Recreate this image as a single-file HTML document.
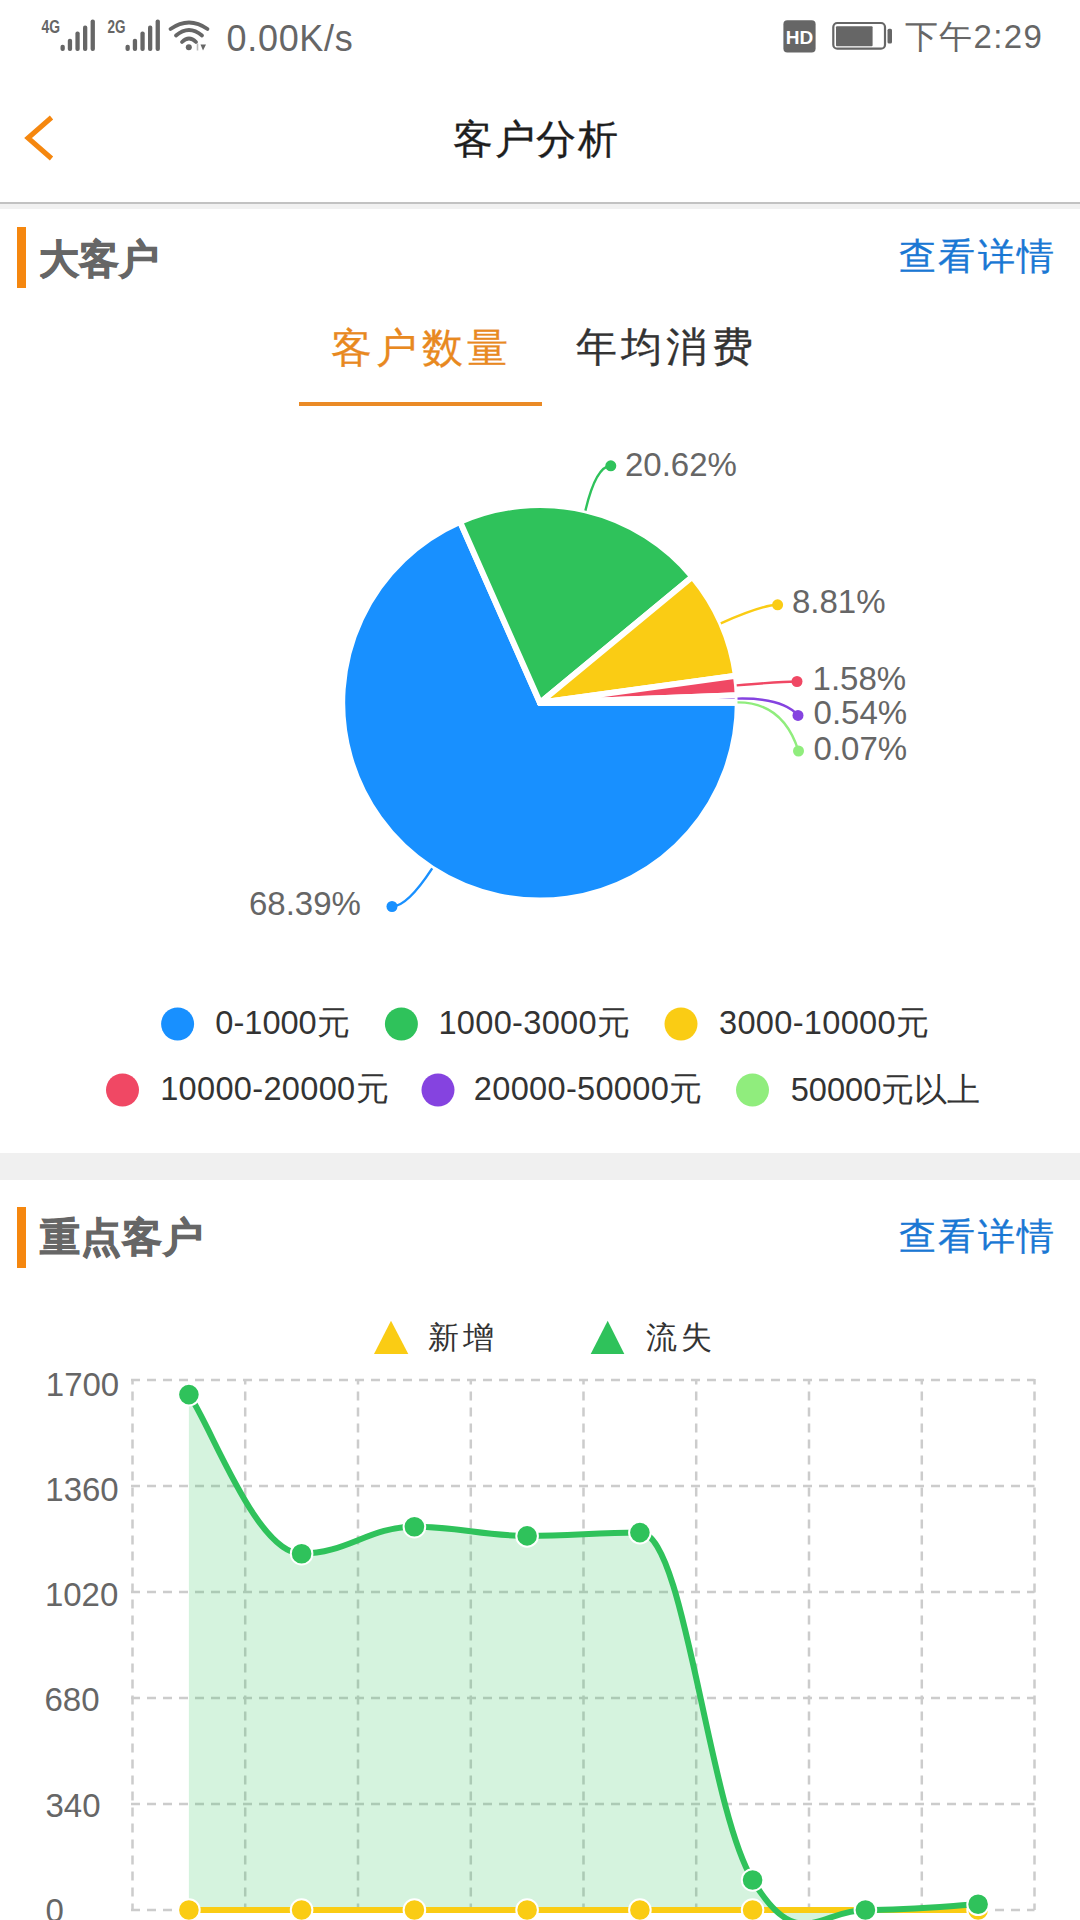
<!DOCTYPE html>
<html><head><meta charset="utf-8"><style>
html,body{margin:0;padding:0;}
body{width:1080px;height:1920px;overflow:hidden;position:relative;background:#fff;font-family:'Liberation Sans', sans-serif;}
.t{position:absolute;white-space:nowrap;line-height:1;}
.abs{position:absolute;}
</style></head><body>
<div class="abs" style="left:0;top:201.5px;width:1080px;height:2px;background:#c2c2c2"></div>
<div class="abs" style="left:0;top:203.5px;width:1080px;height:5px;background:#f1f1f1"></div>
<div class="abs" style="left:0;top:1153px;width:1080px;height:26.5px;background:#f0f0f0"></div>
<div class="abs" style="left:17px;top:227px;width:9px;height:61px;background:#f5870f"></div>
<div class="abs" style="left:17px;top:1207px;width:9px;height:61px;background:#f5870f"></div>
<div class="abs" style="left:299px;top:402px;width:243px;height:4px;background:#ea8a26"></div>
<svg class="abs" style="left:0;top:0" width="1080" height="1920" viewBox="0 0 1080 1920">

<text x="41.5" y="32.8" font-family="Liberation Sans" font-weight="bold" font-size="18.5" fill="#666" textLength="18.5" lengthAdjust="spacingAndGlyphs">4G</text>
<rect x="60.5" y="44.8" width="4.3" height="6.2" rx="2" fill="#666"/>
<rect x="67.8" y="38.7" width="4.3" height="12.3" rx="2" fill="#666"/>
<rect x="75.4" y="31.6" width="4.3" height="19.4" rx="2" fill="#666"/>
<rect x="83" y="25.5" width="4.3" height="25.5" rx="2" fill="#666"/>
<rect x="90.6" y="19.4" width="4.3" height="31.6" rx="2" fill="#666"/>
<text x="107.5" y="32.8" font-family="Liberation Sans" font-weight="bold" font-size="18.5" fill="#666" textLength="18" lengthAdjust="spacingAndGlyphs">2G</text>
<rect x="125.5" y="44.8" width="4.3" height="6.2" rx="2" fill="#666"/>
<rect x="132.8" y="38.7" width="4.3" height="12.3" rx="2" fill="#666"/>
<rect x="140.4" y="31.6" width="4.3" height="19.4" rx="2" fill="#666"/>
<rect x="148" y="25.5" width="4.3" height="25.5" rx="2" fill="#666"/>
<rect x="155.6" y="19.4" width="4.3" height="31.6" rx="2" fill="#666"/>
<path d="M170.5,29 Q189,16 207.5,29" stroke="#666" stroke-width="3.8" fill="none" stroke-linecap="round"/>
<path d="M176,35.5 Q189,24.5 202,35.5" stroke="#666" stroke-width="3.8" fill="none" stroke-linecap="round"/>
<path d="M182,42 Q189,35 196,42" stroke="#666" stroke-width="3.8" fill="none" stroke-linecap="round"/>
<circle cx="188.8" cy="47.3" r="3" fill="#666"/>
<path d="M197.5,43.5 L197.5,50.5" stroke="#bbb" stroke-width="1.6"/>
<path d="M200.5,44.5 L206,44.5 L203,50.5 Z" fill="#666"/>
<rect x="783.4" y="20.2" width="32.2" height="32.2" rx="4" fill="#666"/>
<text x="799.5" y="44" font-family="Liberation Sans" font-weight="bold" font-size="19" fill="#fff" text-anchor="middle">HD</text>
<rect x="833.3" y="23" width="51.7" height="25.7" rx="4" fill="none" stroke="#666" stroke-width="2.2"/>
<rect x="836" y="26.2" width="36.6" height="20" rx="1" fill="#666"/>
<rect x="887.5" y="28.8" width="4.5" height="14.8" rx="1.5" fill="#666"/>

<path d="M51.5,117.5 L28,138 L51.5,158.5" fill="none" stroke="#f5870f" stroke-width="5" stroke-linecap="butt" stroke-linejoin="miter"/>
<path d="M540,702.8 L737.80,702.80 A197.8,197.8 0 1 1 460.11,521.85 Z" fill="#1890ff" stroke="#fff" stroke-width="6" stroke-linejoin="round"/>
<path d="M540,702.8 L460.11,521.85 A197.8,197.8 0 0 1 692.42,576.73 Z" fill="#2fc25b" stroke="#fff" stroke-width="6" stroke-linejoin="round"/>
<path d="M540,702.8 L692.42,576.73 A197.8,197.8 0 0 1 735.93,675.67 Z" fill="#facc14" stroke="#fff" stroke-width="6" stroke-linejoin="round"/>
<path d="M540,702.8 L735.93,675.67 A197.8,197.8 0 0 1 737.65,695.22 Z" fill="#f04864" stroke="#fff" stroke-width="6" stroke-linejoin="round"/>
<path d="M540,702.8 L737.65,695.22 A197.8,197.8 0 0 1 737.80,701.93 Z" fill="#8543e0" stroke="#fff" stroke-width="6" stroke-linejoin="round"/>
<path d="M540,702.8 L737.80,701.93 A197.8,197.8 0 0 1 737.80,702.80 Z" fill="#90ed7d" stroke="#fff" stroke-width="6" stroke-linejoin="round"/>
<path d="M432.2,868.3 Q407.3,906.4 392.0,906.5" fill="none" stroke="#1890ff" stroke-width="2.4"/>
<circle cx="392.0" cy="906.5" r="5.5" fill="#1890ff"/>
<path d="M585.4,510.6 Q595.9,466.3 610.8,465.8" fill="none" stroke="#2fc25b" stroke-width="2.4"/>
<circle cx="610.8" cy="465.8" r="5.5" fill="#2fc25b"/>
<path d="M720.8,623.3 Q762.4,605.0 777.6,604.8" fill="none" stroke="#facc14" stroke-width="2.4"/>
<circle cx="777.6" cy="604.8" r="5.5" fill="#facc14"/>
<path d="M736.7,685.4 Q782.1,681.5 797,681.5" fill="none" stroke="#f04864" stroke-width="2.4"/>
<circle cx="797" cy="681.5" r="5.5" fill="#f04864"/>
<path d="M737.5,698.6 Q782.9,697.6 798,715.4" fill="none" stroke="#8543e0" stroke-width="2.4"/>
<circle cx="798" cy="715.4" r="5.5" fill="#8543e0"/>
<path d="M737.5,702.4 Q783.0,702.2 798.5,751" fill="none" stroke="#90ed7d" stroke-width="2.4"/>
<circle cx="798.5" cy="751" r="5.5" fill="#90ed7d"/>
<circle cx="177.6" cy="1024" r="16.5" fill="#1890ff"/>
<circle cx="401.4" cy="1024" r="16.5" fill="#2fc25b"/>
<circle cx="681" cy="1024" r="16.5" fill="#facc14"/>
<circle cx="122.5" cy="1090" r="16.5" fill="#f04864"/>
<circle cx="438" cy="1090" r="16.5" fill="#8543e0"/>
<circle cx="752.5" cy="1090" r="16.5" fill="#90ed7d"/>
<path d="M391,1320.7 L408.3,1354 L374,1354 Z" fill="#facc14"/>
<path d="M607.7,1320.7 L624.3,1354 L590.7,1354 Z" fill="#2fc25b"/>
<path d="M131.0,1380.0 H1034.5 M131.0,1486.0 H1034.5 M131.0,1592.0 H1034.5 M131.0,1698.0 H1034.5 M131.0,1804.0 H1034.5 M131.0,1910.0 H1034.5" stroke="#cccccc" stroke-width="2.5" stroke-dasharray="9 7" fill="none"/>
<path d="M132.5,1379 V1910 M245.2,1379 V1910 M358.0,1379 V1910 M470.8,1379 V1910 M583.5,1379 V1910 M696.2,1379 V1910 M809.0,1379 V1910 M921.8,1379 V1910 M1034.5,1379 V1910" stroke="#cccccc" stroke-width="2.5" stroke-dasharray="9 7" stroke-dashoffset="3.4" fill="none"/>
<path d="M188.9,1394.6 C211.4,1426.4 256.5,1553.7 301.6,1553.7 C346.7,1553.7 369.3,1526.7 414.4,1526.7 C459.5,1526.7 482.0,1535.9 527.1,1535.9 C572.2,1535.9 594.8,1532.6 639.9,1532.6 C685.0,1532.6 707.5,1804.5 752.6,1880.0 C797.7,1955.5 820.3,1910.0 865.4,1910.0 C910.5,1910.0 955.6,1905.4 978.1,1904.3 L978.1,1910 L188.9,1910 Z" fill="#2fc25b" fill-opacity="0.2" stroke="none"/>
<path d="M188.9,1910.0 C211.4,1910.0 256.5,1910.0 301.6,1910.0 C346.7,1910.0 369.3,1910.0 414.4,1910.0 C459.5,1910.0 482.0,1910.0 527.1,1910.0 C572.2,1910.0 594.8,1910.0 639.9,1910.0 C685.0,1910.0 707.5,1910.0 752.6,1910.0 C797.7,1910.0 820.3,1910.0 865.4,1910.0 C910.5,1910.0 955.6,1910.0 978.1,1910.0" fill="none" stroke="#facc14" stroke-width="6"/>
<circle cx="188.9" cy="1910" r="10.8" fill="#facc14" stroke="#fff" stroke-width="2"/>
<circle cx="301.6" cy="1910" r="10.8" fill="#facc14" stroke="#fff" stroke-width="2"/>
<circle cx="414.4" cy="1910" r="10.8" fill="#facc14" stroke="#fff" stroke-width="2"/>
<circle cx="527.1" cy="1910" r="10.8" fill="#facc14" stroke="#fff" stroke-width="2"/>
<circle cx="639.9" cy="1910" r="10.8" fill="#facc14" stroke="#fff" stroke-width="2"/>
<circle cx="752.6" cy="1910" r="10.8" fill="#facc14" stroke="#fff" stroke-width="2"/>
<circle cx="865.4" cy="1910" r="10.8" fill="#facc14" stroke="#fff" stroke-width="2"/>
<circle cx="978.1" cy="1910" r="10.8" fill="#facc14" stroke="#fff" stroke-width="2"/>
<path d="M188.9,1394.6 C211.4,1426.4 256.5,1553.7 301.6,1553.7 C346.7,1553.7 369.3,1526.7 414.4,1526.7 C459.5,1526.7 482.0,1535.9 527.1,1535.9 C572.2,1535.9 594.8,1532.6 639.9,1532.6 C685.0,1532.6 707.5,1804.5 752.6,1880.0 C797.7,1955.5 820.3,1910.0 865.4,1910.0 C910.5,1910.0 955.6,1905.4 978.1,1904.3" fill="none" stroke="#2fc25b" stroke-width="6"/>
<circle cx="188.9" cy="1394.6" r="10.8" fill="#2fc25b" stroke="#fff" stroke-width="2"/>
<circle cx="301.6" cy="1553.7" r="10.8" fill="#2fc25b" stroke="#fff" stroke-width="2"/>
<circle cx="414.4" cy="1526.7" r="10.8" fill="#2fc25b" stroke="#fff" stroke-width="2"/>
<circle cx="527.1" cy="1535.9" r="10.8" fill="#2fc25b" stroke="#fff" stroke-width="2"/>
<circle cx="639.9" cy="1532.6" r="10.8" fill="#2fc25b" stroke="#fff" stroke-width="2"/>
<circle cx="752.6" cy="1880" r="10.8" fill="#2fc25b" stroke="#fff" stroke-width="2"/>
<circle cx="865.4" cy="1910" r="10.8" fill="#2fc25b" stroke="#fff" stroke-width="2"/>
<circle cx="978.1" cy="1904.3" r="10.8" fill="#2fc25b" stroke="#fff" stroke-width="2"/>
</svg>
<div class="t" style="left:226.5px;top:21.2px;font-size:36px;color:#666;font-weight:normal;letter-spacing:0.7px;">0.00K/s</div>
<div class="t" style="left:904.6px;top:20.2px;font-size:33px;color:#666;font-weight:normal;letter-spacing:1.4px;">下午2:29</div>
<div class="t" style="left:453.0px;top:118.5px;font-size:40px;color:#1e1e1e;font-weight:normal;letter-spacing:1.6px;-webkit-text-stroke:0.3px #1e1e1e;">客户分析</div>
<div class="t" style="left:39.0px;top:238.5px;font-size:40px;color:#666;font-weight:bold;-webkit-text-stroke:0.9px #666;">大客户</div>
<div class="t" style="left:899.0px;top:239.0px;font-size:36.5px;color:#1a78d4;font-weight:normal;letter-spacing:2.4px;-webkit-text-stroke:0.3px #1a78d4;">查看详情</div>
<div class="t" style="left:331.0px;top:327.5px;font-size:41px;color:#e8891f;font-weight:normal;letter-spacing:4.4px;-webkit-text-stroke:0.3px #e8891f;">客户数量</div>
<div class="t" style="left:576.0px;top:327.0px;font-size:41px;color:#333;font-weight:normal;letter-spacing:4.2px;-webkit-text-stroke:0.3px #333;">年均消费</div>
<div class="t" style="left:625.0px;top:447.5px;font-size:33px;color:#666;font-weight:normal;">20.62%</div>
<div class="t" style="left:792.0px;top:585.0px;font-size:33px;color:#666;font-weight:normal;">8.81%</div>
<div class="t" style="left:812.6px;top:662.3px;font-size:33px;color:#666;font-weight:normal;">1.58%</div>
<div class="t" style="left:813.6px;top:696.1px;font-size:33px;color:#666;font-weight:normal;">0.54%</div>
<div class="t" style="left:813.6px;top:731.7px;font-size:33px;color:#666;font-weight:normal;">0.07%</div>
<div class="t" style="left:249.0px;top:887.2px;font-size:33px;color:#666;font-weight:normal;">68.39%</div>
<div class="t" style="left:215.3px;top:1007.3px;font-size:32.6px;color:#333;font-weight:normal;">0-1000元</div>
<div class="t" style="left:438.4px;top:1007.3px;font-size:32.6px;color:#333;font-weight:normal;letter-spacing:0.3px;">1000-3000元</div>
<div class="t" style="left:719.0px;top:1007.3px;font-size:32.6px;color:#333;font-weight:normal;letter-spacing:0.3px;">3000-10000元</div>
<div class="t" style="left:160.2px;top:1073.3px;font-size:32.6px;color:#333;font-weight:normal;letter-spacing:0.3px;">10000-20000元</div>
<div class="t" style="left:473.8px;top:1073.3px;font-size:32.6px;color:#333;font-weight:normal;letter-spacing:0.3px;">20000-50000元</div>
<div class="t" style="left:790.7px;top:1073.8px;font-size:32.6px;color:#333;font-weight:normal;">50000元以上</div>
<div class="t" style="left:39.7px;top:1217.3px;font-size:40px;color:#666;font-weight:bold;-webkit-text-stroke:0.9px #666;letter-spacing:1.2px;">重点客户</div>
<div class="t" style="left:899.0px;top:1219.0px;font-size:36.5px;color:#1a78d4;font-weight:normal;letter-spacing:2.4px;-webkit-text-stroke:0.3px #1a78d4;">查看详情</div>
<div class="t" style="left:428.3px;top:1322.2px;font-size:30.5px;color:#333;font-weight:normal;letter-spacing:3.5px;">新增</div>
<div class="t" style="left:646.3px;top:1322.2px;font-size:30.5px;color:#333;font-weight:normal;letter-spacing:3.5px;">流失</div>
<div class="t" style="left:45.8px;top:1368.0px;font-size:33px;color:#666;font-weight:normal;">1700</div>
<div class="t" style="left:45.3px;top:1473.3px;font-size:33px;color:#666;font-weight:normal;">1360</div>
<div class="t" style="left:44.9px;top:1578.0px;font-size:33px;color:#666;font-weight:normal;">1020</div>
<div class="t" style="left:44.5px;top:1683.0px;font-size:33px;color:#666;font-weight:normal;">680</div>
<div class="t" style="left:45.5px;top:1788.8px;font-size:33px;color:#666;font-weight:normal;">340</div>
<div class="t" style="left:45.5px;top:1894.0px;font-size:33px;color:#666;font-weight:normal;">0</div>
</body></html>
